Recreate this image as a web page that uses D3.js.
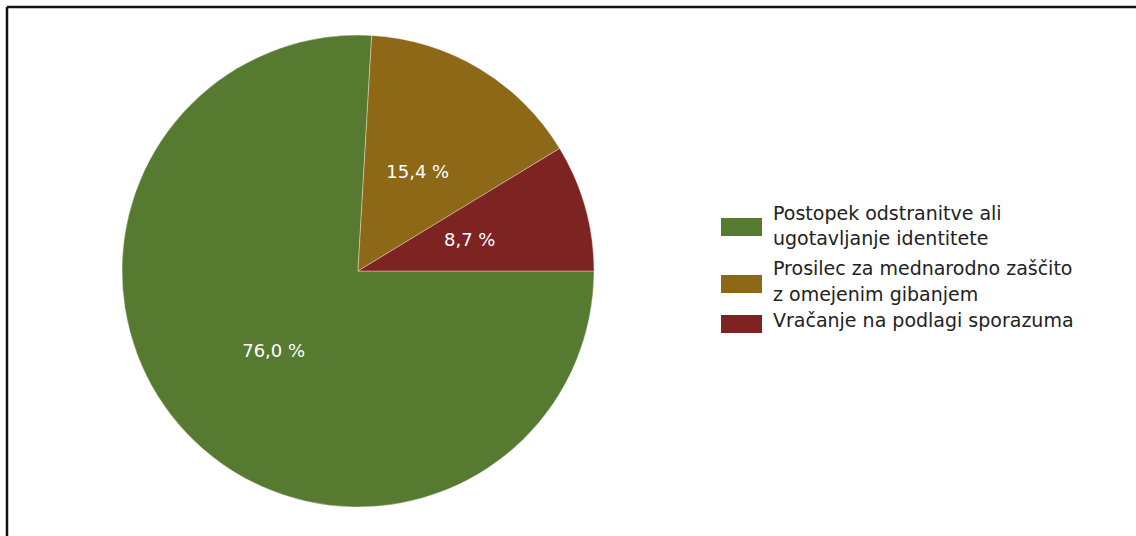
<!DOCTYPE html>
<html>
<head>
<meta charset="utf-8">
<script src="https://cdn.jsdelivr.net/npm/d3@7"></script>
<style>
  html, body { margin: 0; padding: 0; background: #fff; }
  svg { display: block; }
</style>
</head>
<body>
<svg id="chart" width="1136" height="536"></svg>
<script>
// Share of persons by procedure type
const categories = [
  ["Postopek odstranitve ali", "ugotavljanje identitete"],
  ["Prosilec za mednarodno zaščito", "z omejenim gibanjem"],
  ["Vračanje na podlagi sporazuma"]
];
const values = [76.0, 15.4, 8.7];
const labels = ["76,0 %", "15,4 %", "8,7 %"];
const colors = ["#567a30", "#8c6817", "#7d2321"];

const svg = d3.select("#chart");
const W = 1136, H = 536;

svg.append("rect").attr("width", W).attr("height", H).attr("fill", "#fff");

// frame (top and left edges)
svg.append("line").attr("x1", 7).attr("y1", 7).attr("x2", W).attr("y2", 7)
  .attr("stroke", "#111").attr("stroke-width", 2.5);
svg.append("line").attr("x1", 7).attr("y1", 7).attr("x2", 7).attr("y2", H)
  .attr("stroke", "#111").attr("stroke-width", 2.5);

const cx = 358, cy = 271, R = 236;
const data = values.map((v, i) => ({ v, i }));

const pie = d3.pie().value(d => d.v).sort(null)
  .startAngle(Math.PI / 2).endAngle(Math.PI / 2 + 2 * Math.PI);
const arcs = pie(data);
const arc = d3.arc().innerRadius(0).outerRadius(R);
const labelArc = d3.arc().innerRadius(116).outerRadius(116);

const g = svg.append("g").attr("transform", `translate(${cx},${cy})`);
g.selectAll("path").data(arcs).join("path")
  .attr("d", arc)
  .attr("fill", d => colors[d.data.i])
  .attr("stroke", "rgba(255,255,255,0.45)")
  .attr("stroke-width", 0.8);

g.selectAll("text").data(arcs).join("text")
  .attr("transform", d => `translate(${labelArc.centroid(d)})`)
  .attr("text-anchor", "middle")
  .attr("dy", "0.35em")
  .attr("fill", "#fff")
  .attr("font-family", "DejaVu Sans, sans-serif")
  .attr("font-size", 18)
  .text(d => labels[d.data.i]);

// legend: swatch top and text baselines per entry
const swatchY = [218, 275, 315];
const baselines = [[220, 245], [275, 301], [327]];
const legend = svg.append("g");
categories.forEach((lines, i) => {
  legend.append("rect")
    .attr("x", 721).attr("y", swatchY[i]).attr("width", 41).attr("height", 18)
    .attr("fill", colors[i]);
  const t = legend.append("text")
    .attr("font-family", "DejaVu Sans, sans-serif")
    .attr("font-size", 19)
    .attr("fill", "#222");
  lines.forEach((ln, k) => {
    t.append("tspan").attr("x", 773).attr("y", baselines[i][k]).text(ln);
  });
});
</script>
</body>
</html>
